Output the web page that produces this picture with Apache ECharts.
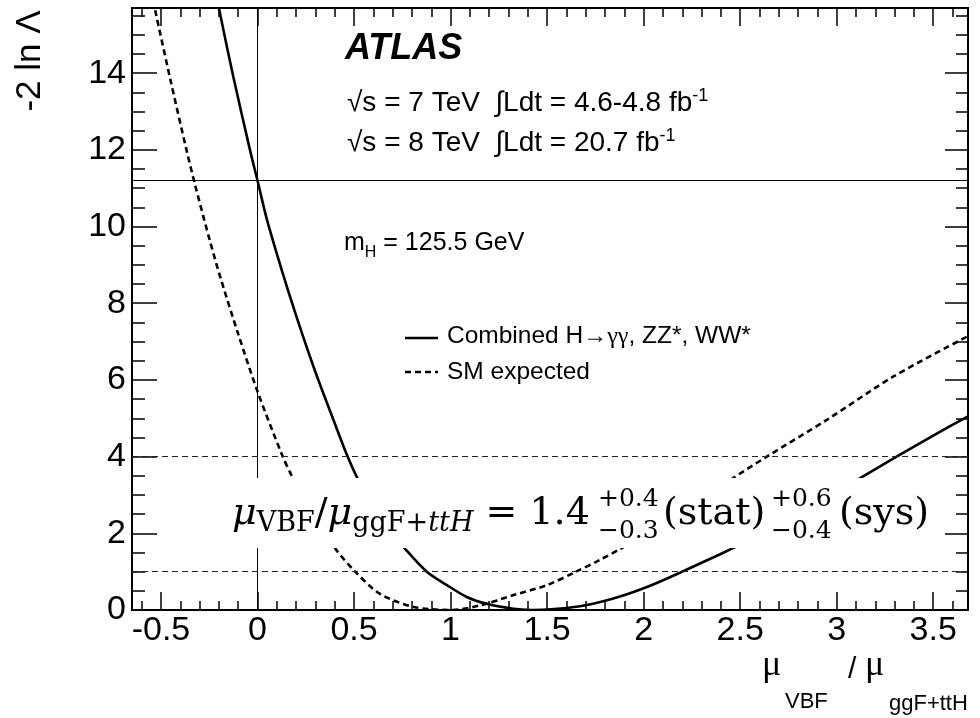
<!DOCTYPE html>
<html>
<head>
<meta charset="utf-8">
<script src="https://cdn.jsdelivr.net/npm/echarts@6/dist/echarts.min.js"></script>
<style>
  html, body { margin: 0; padding: 0; background: #fff; }
  #chart { width: 980px; height: 718px; }
</style>
</head>
<body>
<div id="chart"></div>
<script>
// Profile likelihood scan, -2 ln Lambda versus mu_VBF / mu_ggF+ttH

// Observed combination (H->gg, ZZ*, WW*)
const obsMu  = [-0.2, -0.125, -0.04, 0, 0.049, 0.126, 0.204, 0.299, 0.394, 0.463, 0.523, 0.6, 0.68, 0.766, 0.877, 0.981, 1.084, 1.188, 1.326, 1.42, 1.67, 1.843, 2.017, 2.2, 2.36, 2.465, 2.6, 2.85, 3.104, 3.31, 3.5, 3.68];
const obsNll = [15.7, 13.9, 12.02, 11.2, 10.18, 8.86, 7.62, 6.22, 4.95, 4.05, 3.38, 2.68, 2.12, 1.59, 1.0, 0.65, 0.34, 0.16, 0.03, 0.0, 0.1, 0.30, 0.6, 1.0, 1.37, 1.62, 1.95, 2.62, 3.39, 4.0, 4.55, 5.05];

// SM expectation
const expMu  = [-0.53, -0.452, -0.366, -0.323, -0.245, -0.192, -0.1, 0, 0.126, 0.178, 0.25, 0.33, 0.403, 0.5, 0.635, 0.81, 1.0, 1.153, 1.326, 1.5, 1.65, 1.775, 1.87, 2.05, 2.25, 2.448, 2.638, 2.949, 3.294, 3.68];
const expNll = [15.64, 13.85, 11.96, 11.08, 9.6, 8.67, 7.2, 5.70, 4.06, 3.49, 2.8, 2.13, 1.6, 1.03, 0.42, 0.08, 0.0, 0.12, 0.39, 0.65, 1.0, 1.31, 1.57, 2.09, 2.71, 3.39, 4.0, 4.96, 6.09, 7.14];

const seriesNames = ['Combined H→γγ, ZZ*, WW*', 'SM expected'];

// Axis ranges and tick labels
const xRange = [-0.65, 3.68];
const yRange = [0, 15.7];
const xMajorTicks = [-0.5, 0, 0.5, 1, 1.5, 2, 2.5, 3, 3.5];
const yMajorTicks = [0, 2, 4, 6, 8, 10, 12, 14];

// Reference lines: mu = 0, -2lnL at mu = 0, 1 and 2 sigma levels
const muZero = 0;
const nllAtZero = 11.2;
const oneSigma = 1;
const twoSigma = 4;

const SANS = '"Liberation Sans", Arial, Helvetica, sans-serif';
const SERIF = '"Liberation Serif", "Times New Roman", serif';
const MATH = '"DejaVu Serif", "Liberation Serif", serif';

function minorTicks(lo, hi, step, majors) {
  const out = [];
  const n = Math.round((hi - lo) / step);
  for (let i = 0; i <= n; i++) {
    const v = Math.round((lo + i * step) * 1000) / 1000;
    if (!majors.some(m => Math.abs(m - v) < 1e-6)) out.push(v);
  }
  return out;
}
const xMinorTicks = minorTicks(-0.6, 3.6, 0.1, xMajorTicks);
const yMinorTicks = minorTicks(0.5, 15.5, 0.5, yMajorTicks);

function xAxisDef(position, ticks, len, withLabels) {
  return {
    type: 'value', position: position, min: xRange[0], max: xRange[1],
    axisLine: { show: false, onZero: false },
    splitLine: { show: false },
    axisTick: { show: true, inside: true, length: len, customValues: ticks,
                lineStyle: { color: '#000', width: 1.5 } },
    axisLabel: withLabels
      ? { show: true, customValues: ticks, margin: 4, fontSize: 34, fontFamily: SANS, color: '#000' }
      : { show: false }
  };
}
function yAxisDef(position, ticks, len, withLabels) {
  return {
    type: 'value', position: position, min: yRange[0], max: yRange[1],
    axisLine: { show: false, onZero: false },
    splitLine: { show: false },
    axisTick: { show: true, inside: true, length: len, customValues: ticks,
                lineStyle: { color: '#000', width: 1.5 } },
    axisLabel: withLabels
      ? { show: true, customValues: ticks, margin: 6, fontSize: 34, fontFamily: SANS, color: '#000' }
      : { show: false }
  };
}

function zip(xs, ys) { return xs.map((x, i) => [x, ys[i]]); }

// text placed by its baseline
function label(text, x, baseline, size, family, extra) {
  return {
    type: 'text', z: 60, x: x, y: baseline - 0.345 * size, silent: true,
    style: Object.assign({ text: text, fontSize: size, fontFamily: family, fill: '#000',
                           align: 'left', verticalAlign: 'middle' }, extra || {})
  };
}

// one-line rich text placed by the baseline of its main font
function richLine(text, x, baseline, size, lineHeight, rich) {
  const top = baseline - lineHeight / 2 - 0.345 * size;
  return { type: 'text', z: 60, x: x, y: top, silent: true,
           style: { text: text, align: 'left', verticalAlign: 'top', rich: rich } };
}

const SOLID = { color: '#000', width: 2.6 };
const DASH = [6, 4];

const infoRich = {
  a: { fontSize: 28, lineHeight: 33, fontFamily: SANS, color: '#000' },
  sup: { fontSize: 18, lineHeight: 18, verticalAlign: 'top', fontFamily: SANS, color: '#000' }
};

const M = 38, SC = 27, ST = 25;   // result formula sizes
const formulaRich = {
  m: { fontSize: M, lineHeight: 48, fontFamily: MATH, fontStyle: 'italic', color: '#000' },
  r: { fontSize: M, lineHeight: 48, fontFamily: MATH, color: '#000' },
  s: { fontSize: SC, lineHeight: SC, verticalAlign: 'bottom', fontFamily: MATH, color: '#000' },
  si: { fontSize: SC, lineHeight: SC, verticalAlign: 'bottom', fontFamily: MATH, fontStyle: 'italic', color: '#000' }
};

const chart = echarts.init(document.getElementById('chart'), null, { renderer: 'canvas' });

chart.setOption({
  animation: false,
  backgroundColor: '#fff',
  grid: { left: 132, right: 12, top: 8, bottom: 108, show: true,
          borderColor: '#000', borderWidth: 2, backgroundColor: 'transparent' },
  xAxis: [
    xAxisDef('bottom', xMajorTicks, 18, true),
    xAxisDef('bottom', xMinorTicks, 9, false),
    xAxisDef('top', xMajorTicks, 18, false),
    xAxisDef('top', xMinorTicks, 9, false)
  ],
  yAxis: [
    yAxisDef('left', yMajorTicks, 25, true),
    yAxisDef('left', yMinorTicks, 13, false),
    yAxisDef('right', yMajorTicks, 23, false),
    yAxisDef('right', yMinorTicks, 12, false)
  ],
  series: [
    {
      name: seriesNames[0], type: 'line', data: zip(obsMu, obsNll),
      symbol: 'none', smooth: 0.3, z: 3,
      lineStyle: SOLID,
      markLine: {
        silent: true, symbol: ['none', 'none'], label: { show: false },
        data: [
          { xAxis: muZero, lineStyle: { color: '#000', width: 1, type: 'solid' } },
          { yAxis: nllAtZero, lineStyle: { color: '#000', width: 1, type: 'solid' } },
          { yAxis: twoSigma, lineStyle: { color: '#222', width: 1, type: [6, 4] } },
          { yAxis: oneSigma, lineStyle: { color: '#222', width: 1, type: [6, 4] } }
        ]
      }
    },
    {
      name: seriesNames[1], type: 'line', data: zip(expMu, expNll),
      symbol: 'none', smooth: 0.3, z: 3,
      lineStyle: { color: '#000', width: 2.6, type: DASH }
    }
  ],
  graphic: [
    // y-axis title
    { type: 'text', z: 60, x: 30, y: 61, rotation: Math.PI / 2, silent: true,
      style: { text: '-2 ln Λ', fontSize: 35, fontFamily: SANS, fill: '#000',
               align: 'center', verticalAlign: 'middle' } },
    // x-axis title
    label('μ', 762, 678, 36, SERIF),
    label('VBF', 785, 710, 22, SANS),
    label('/', 848, 680, 30, SANS),
    label('μ', 865, 678, 36, SERIF),
    label('ggF+ttH', 889, 712, 22, SANS),

    // experiment labels
    label('ATLAS', 345, 61.7, 36, SANS, { fontWeight: 'bold', fontStyle: 'italic' }),
    richLine('{a|√s = 7 TeV  ∫Ldt = 4.6-4.8 fb}{sup|-1}', 347, 113.3, 28, 33, infoRich),
    richLine('{a|√s = 8 TeV  ∫Ldt = 20.7 fb}{sup|-1}', 347, 152.7, 28, 33, infoRich),
    richLine('{a|m}{sub|H}{a| = 125.5 GeV}', 344, 251.7, 25, 36, {
      a: { fontSize: 25, lineHeight: 36, fontFamily: SANS, color: '#000' },
      sub: { fontSize: 16, lineHeight: 16, verticalAlign: 'bottom', fontFamily: SANS, color: '#000' }
    }),

    // legend
    { type: 'line', z: 60, silent: true, shape: { x1: 405, y1: 338, x2: 438, y2: 338 },
      style: { stroke: '#000', lineWidth: 2.6 } },
    richLine('{a|' + seriesNames[0].replace('→γγ', '}{g|→γγ}{a|') + '}', 447, 345, 24.5, 28, {
      a: { fontSize: 24.5, lineHeight: 28, fontFamily: SANS, color: '#000' },
      g: { fontSize: 24, lineHeight: 28, fontFamily: SERIF, color: '#000' }
    }),
    { type: 'line', z: 60, silent: true, shape: { x1: 405, y1: 372, x2: 438, y2: 372 },
      style: { stroke: '#000', lineWidth: 2.6, lineDash: DASH } },
    label(seriesNames[1], 447, 381, 24.5, SANS),

    // result formula on a white panel
    { type: 'rect', z: 50, silent: true, shape: { x: 226, y: 478, width: 712, height: 70 },
      style: { fill: '#fff' } },
    richLine('{m|μ}{s|VBF}{r|/}{m|μ}{s|ggF+}{si|ttH}{r| = 1.4}', 232, 527, M, 48, formulaRich),
    label('+0.4', 598, 508, ST, MATH),
    label('−0.3', 598, 540, ST, MATH),
    label('(stat)', 663, 527, M, MATH),
    label('+0.6', 771, 508, ST, MATH),
    label('−0.4', 771, 540, ST, MATH),
    label('(sys)', 839, 527, M, MATH)
  ]
});
</script>
</body>
</html>
